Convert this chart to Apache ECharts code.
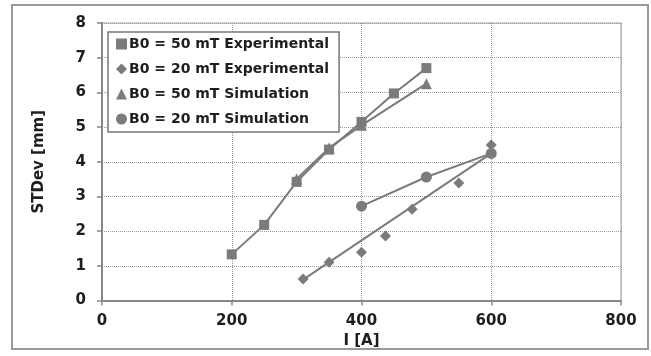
<!DOCTYPE html>
<html>
<head>
<meta charset="utf-8">
<script src="https://cdn.jsdelivr.net/npm/echarts@6/dist/echarts.min.js"></script>
<style>
  html, body { margin: 0; padding: 0; background: #fff; }
  #chart { width: 651px; height: 356px; }
</style>
</head>
<body>
<div id="chart"></div>
<script>
// I [A] vs STDev [mm]
var currentExp50 = [200, 250, 300, 350, 400, 450, 500];
var stdevExp50 = [1.33, 2.18, 3.42, 4.35, 5.15, 5.97, 6.7];

var currentExp20 = [310, 350, 400, 437, 478, 550, 600];
var stdevExp20 = [0.62, 1.1, 1.39, 1.86, 2.63, 3.39, 4.48];

var currentSim50 = [300, 350, 400, 500];
var stdevSim50 = [3.5, 4.4, 5.05, 6.25];

var currentSim20 = [400, 500, 600];
var stdevSim20 = [2.72, 3.56, 4.24];

// straight line drawn through the 20 mT experimental points
var fitCurrent20 = [310, 600];
var fitStdev20 = [0.6, 4.24];

var seriesNames = ['B0 = 50 mT Experimental', 'B0 = 20 mT Experimental',
                   'B0 = 50 mT Simulation', 'B0 = 20 mT Simulation'];

function pairs(xs, ys) {
  return xs.map(function (x, i) { return [x, ys[i]]; });
}

var grey = '#7b7b7b';
var font = 'DejaVu Sans, Arial, sans-serif';

var myChart = echarts.init(document.getElementById('chart'));
var option = {
  backgroundColor: '#fff',
  animation: false,
  graphic: [{
    type: 'rect',
    shape: { x: 12, y: 5, width: 636, height: 344 },
    style: { fill: 'none', stroke: '#9a9a9a', lineWidth: 2 },
    silent: true, z: -1
  }],
  grid: {
    left: 102, right: 30, top: 23, bottom: 55.5,
    show: true, borderColor: '#a0a0a0', borderWidth: 1, backgroundColor: '#fff'
  },
  legend: {
    orient: 'vertical',
    left: 108, top: 32,
    padding: [5, 10, 6, 8],
    itemGap: 11,
    itemWidth: 11, itemHeight: 11,
    backgroundColor: '#fff',
    borderColor: '#777', borderWidth: 1.5,
    textStyle: { fontFamily: font, fontWeight: 'bold', fontSize: 14, color: '#1e1e1e', lineHeight: 14, padding: [0, 0, 0, -3] },
    data: [
      { name: seriesNames[0], icon: 'rect', itemStyle: { color: grey, opacity: 1 } },
      { name: seriesNames[1], icon: 'diamond', itemStyle: { color: grey, opacity: 1 } },
      { name: seriesNames[2], icon: 'triangle', itemStyle: { color: grey, opacity: 1 } },
      { name: seriesNames[3], icon: 'circle', itemStyle: { color: grey, opacity: 1 } }
    ]
  },
  xAxis: {
    type: 'value', min: 0, max: 800, interval: 200,
    name: 'I [A]', nameLocation: 'middle', nameGap: 30,
    nameTextStyle: { fontFamily: font, fontWeight: 'bold', fontSize: 15, color: '#1e1e1e' },
    axisLine: { lineStyle: { color: '#888', width: 2 } },
    axisTick: { show: true, length: 5, lineStyle: { color: '#888', width: 1.5 } },
    axisLabel: { margin: 13, fontFamily: font, fontWeight: 'bold', fontSize: 15, color: '#1e1e1e' },
    splitLine: { show: true, lineStyle: { color: '#999', type: 'dotted', width: 1 } }
  },
  yAxis: {
    type: 'value', min: 0, max: 8, interval: 1,
    name: 'STDev [mm]', nameLocation: 'middle', nameGap: 55,
    nameTextStyle: { fontFamily: font, fontWeight: 'bold', fontSize: 15, color: '#1e1e1e' },
    axisLine: { lineStyle: { color: '#888', width: 2 } },
    axisTick: { show: true, length: 5, lineStyle: { color: '#888', width: 1.5 } },
    axisLabel: { margin: 16, fontFamily: font, fontWeight: 'bold', fontSize: 15, color: '#1e1e1e' },
    splitLine: { show: true, lineStyle: { color: '#999', type: 'dotted', width: 1 } }
  },
  series: [
    {
      name: seriesNames[0], type: 'line', data: pairs(currentExp50, stdevExp50),
      symbol: 'rect', symbolSize: 10,
      lineStyle: { color: grey, width: 2 }, itemStyle: { color: grey }
    },
    {
      name: seriesNames[2], type: 'line', data: pairs(currentSim50, stdevSim50),
      symbol: 'triangle', symbolSize: 11,
      lineStyle: { color: grey, width: 2 }, itemStyle: { color: grey }
    },
    {
      name: seriesNames[3], type: 'line', data: pairs(currentSim20, stdevSim20),
      symbol: 'circle', symbolSize: 11,
      lineStyle: { color: grey, width: 2 }, itemStyle: { color: grey }
    },
    {
      name: 'fit20', type: 'line', data: pairs(fitCurrent20, fitStdev20),
      symbol: 'none',
      lineStyle: { color: grey, width: 2 }
    },
    {
      name: seriesNames[1], type: 'scatter', data: pairs(currentExp20, stdevExp20),
      symbol: 'diamond', symbolSize: 11,
      itemStyle: { color: grey, opacity: 1 }
    }
  ]
};
myChart.setOption(option);
</script>
</body>
</html>
